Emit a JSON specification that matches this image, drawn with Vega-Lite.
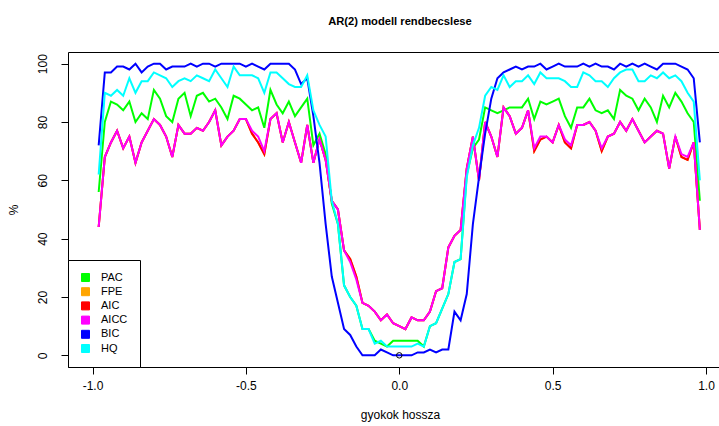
{
  "$schema": "https://vega.github.io/schema/vega-lite/v6.json",
  "width": 651,
  "height": 315,
  "autosize": {"type": "none"},
  "padding": {"left": 68, "top": 52, "right": 0, "bottom": 59},
  "background": "white",
  "config": {
    "view": {"stroke": "black", "strokeWidth": 1},
    "axis": {"domain": false, "grid": false, "ticks": true, "tickColor": "black", "tickSize": 7, "tickWidth": 1, "labelFont": "Liberation Sans", "labelFontSize": 12, "labelColor": "black", "titleFont": "Liberation Sans", "titleFontSize": 12, "titleFontWeight": "normal", "titleColor": "black"}
  },
  "title": {"text": "AR(2) modell rendbecslese", "font": "Liberation Sans", "fontSize": 11.2, "fontWeight": "bold", "color": "black", "anchor": "middle", "dx": 6.5, "offset": 25},
  "datasets": {
    "ar": [
      {"x": -0.98, "PAC": 56, "FPE": 44, "AIC": 44, "AICC": 44, "BIC": 72, "HQ": 62},
      {"x": -0.96, "PAC": 80, "FPE": 68, "AIC": 68, "AICC": 68, "BIC": 97, "HQ": 90},
      {"x": -0.94, "PAC": 87, "FPE": 73, "AIC": 73, "AICC": 73, "BIC": 97, "HQ": 89},
      {"x": -0.92, "PAC": 86, "FPE": 77, "AIC": 77, "AICC": 77, "BIC": 99, "HQ": 91},
      {"x": -0.90, "PAC": 84, "FPE": 71, "AIC": 71, "AICC": 71, "BIC": 99, "HQ": 89},
      {"x": -0.88, "PAC": 87, "FPE": 75, "AIC": 75, "AICC": 75, "BIC": 98, "HQ": 95},
      {"x": -0.86, "PAC": 80, "FPE": 66, "AIC": 66, "AICC": 66, "BIC": 100, "HQ": 90},
      {"x": -0.84, "PAC": 83, "FPE": 73, "AIC": 73, "AICC": 73, "BIC": 97, "HQ": 94},
      {"x": -0.82, "PAC": 81, "FPE": 77, "AIC": 77, "AICC": 77, "BIC": 99, "HQ": 94},
      {"x": -0.80, "PAC": 91, "FPE": 81, "AIC": 81, "AICC": 81, "BIC": 100, "HQ": 97},
      {"x": -0.78, "PAC": 88, "FPE": 79, "AIC": 79, "AICC": 79, "BIC": 100, "HQ": 96},
      {"x": -0.76, "PAC": 82, "FPE": 75, "AIC": 75, "AICC": 75, "BIC": 98, "HQ": 95},
      {"x": -0.74, "PAC": 80, "FPE": 68, "AIC": 68, "AICC": 68, "BIC": 99, "HQ": 92},
      {"x": -0.72, "PAC": 88, "FPE": 79, "AIC": 79, "AICC": 79, "BIC": 99, "HQ": 94},
      {"x": -0.70, "PAC": 90, "FPE": 76, "AIC": 76, "AICC": 76, "BIC": 99, "HQ": 95},
      {"x": -0.68, "PAC": 82, "FPE": 76, "AIC": 76, "AICC": 76, "BIC": 100, "HQ": 94},
      {"x": -0.66, "PAC": 89, "FPE": 78, "AIC": 78, "AICC": 78, "BIC": 99, "HQ": 96},
      {"x": -0.64, "PAC": 90, "FPE": 77, "AIC": 77, "AICC": 77, "BIC": 100, "HQ": 95},
      {"x": -0.62, "PAC": 87, "FPE": 80, "AIC": 80, "AICC": 80, "BIC": 100, "HQ": 94},
      {"x": -0.60, "PAC": 88, "FPE": 84, "AIC": 84, "AICC": 84, "BIC": 99, "HQ": 98},
      {"x": -0.58, "PAC": 85, "FPE": 72, "AIC": 72, "AICC": 72, "BIC": 100, "HQ": 95},
      {"x": -0.56, "PAC": 81, "FPE": 75, "AIC": 75, "AICC": 75, "BIC": 100, "HQ": 92},
      {"x": -0.54, "PAC": 89, "FPE": 77, "AIC": 77, "AICC": 77, "BIC": 100, "HQ": 99},
      {"x": -0.52, "PAC": 88, "FPE": 81, "AIC": 81, "AICC": 81, "BIC": 100, "HQ": 96},
      {"x": -0.50, "PAC": 86, "FPE": 81, "AIC": 81, "AICC": 81, "BIC": 99, "HQ": 96},
      {"x": -0.48, "PAC": 84, "FPE": 76, "AIC": 76, "AICC": 77, "BIC": 100, "HQ": 96},
      {"x": -0.46, "PAC": 85, "FPE": 73, "AIC": 73, "AICC": 75, "BIC": 99, "HQ": 95},
      {"x": -0.44, "PAC": 78, "FPE": 69, "AIC": 69, "AICC": 70, "BIC": 98, "HQ": 90},
      {"x": -0.42, "PAC": 91, "FPE": 81, "AIC": 81, "AICC": 81, "BIC": 100, "HQ": 97},
      {"x": -0.40, "PAC": 86, "FPE": 83, "AIC": 83, "AICC": 83, "BIC": 100, "HQ": 97},
      {"x": -0.38, "PAC": 83, "FPE": 73, "AIC": 73, "AICC": 73, "BIC": 100, "HQ": 95},
      {"x": -0.36, "PAC": 87, "FPE": 80, "AIC": 80, "AICC": 80, "BIC": 100, "HQ": 93},
      {"x": -0.34, "PAC": 82, "FPE": 73, "AIC": 73, "AICC": 73, "BIC": 98, "HQ": 92},
      {"x": -0.32, "PAC": 85, "FPE": 66, "AIC": 66, "AICC": 66, "BIC": 93, "HQ": 92},
      {"x": -0.30, "PAC": 88, "FPE": 79, "AIC": 79, "AICC": 79, "BIC": 95, "HQ": 96},
      {"x": -0.28, "PAC": 72, "FPE": 66, "AIC": 66, "AICC": 66, "BIC": 82, "HQ": 84},
      {"x": -0.26, "PAC": 76, "FPE": 74, "AIC": 74, "AICC": 74, "BIC": 66, "HQ": 79},
      {"x": -0.24, "PAC": 69, "FPE": 67, "AIC": 67, "AICC": 67, "BIC": 45, "HQ": 75},
      {"x": -0.22, "PAC": 52, "FPE": 53, "AIC": 53, "AICC": 53, "BIC": 27, "HQ": 53},
      {"x": -0.20, "PAC": 45, "FPE": 50, "AIC": 50, "AICC": 50, "BIC": 18, "HQ": 45},
      {"x": -0.18, "PAC": 24, "FPE": 36, "AIC": 36, "AICC": 36, "BIC": 9, "HQ": 24},
      {"x": -0.16, "PAC": 20, "FPE": 33, "AIC": 33, "AICC": 32, "BIC": 7, "HQ": 20},
      {"x": -0.14, "PAC": 17, "FPE": 27, "AIC": 27, "AICC": 26, "BIC": 3, "HQ": 17},
      {"x": -0.12, "PAC": 9, "FPE": 18, "AIC": 18, "AICC": 18, "BIC": 0, "HQ": 9},
      {"x": -0.10, "PAC": 9, "FPE": 17, "AIC": 17, "AICC": 17, "BIC": 0, "HQ": 9},
      {"x": -0.08, "PAC": 5, "FPE": 15, "AIC": 15, "AICC": 15, "BIC": 0, "HQ": 4},
      {"x": -0.06, "PAC": 4, "FPE": 12, "AIC": 12, "AICC": 12, "BIC": 2, "HQ": 5},
      {"x": -0.04, "PAC": 3, "FPE": 14, "AIC": 14, "AICC": 14, "BIC": 1, "HQ": 3},
      {"x": -0.02, "PAC": 5, "FPE": 11, "AIC": 11, "AICC": 11, "BIC": 0, "HQ": 3},
      {"x": 0.00, "PAC": 5, "FPE": 10, "AIC": 10, "AICC": 10, "BIC": 0, "HQ": 3},
      {"x": 0.02, "PAC": 5, "FPE": 9, "AIC": 9, "AICC": 9, "BIC": 0, "HQ": 3},
      {"x": 0.04, "PAC": 5, "FPE": 13, "AIC": 13, "AICC": 13, "BIC": 0, "HQ": 3},
      {"x": 0.06, "PAC": 5, "FPE": 12, "AIC": 12, "AICC": 12, "BIC": 1, "HQ": 4},
      {"x": 0.08, "PAC": 3, "FPE": 12, "AIC": 12, "AICC": 12, "BIC": 1, "HQ": 3},
      {"x": 0.10, "PAC": 10, "FPE": 15, "AIC": 15, "AICC": 15, "BIC": 2, "HQ": 10},
      {"x": 0.12, "PAC": 11, "FPE": 22, "AIC": 22, "AICC": 22, "BIC": 1, "HQ": 11},
      {"x": 0.14, "PAC": 16, "FPE": 23, "AIC": 23, "AICC": 23, "BIC": 2, "HQ": 16},
      {"x": 0.16, "PAC": 21, "FPE": 37, "AIC": 37, "AICC": 37, "BIC": 2, "HQ": 21},
      {"x": 0.18, "PAC": 32, "FPE": 41, "AIC": 41, "AICC": 41, "BIC": 15, "HQ": 32},
      {"x": 0.20, "PAC": 33, "FPE": 43, "AIC": 43, "AICC": 43, "BIC": 12, "HQ": 33},
      {"x": 0.22, "PAC": 62, "FPE": 64, "AIC": 64, "AICC": 64, "BIC": 21, "HQ": 61},
      {"x": 0.24, "PAC": 71, "FPE": 75, "AIC": 75, "AICC": 75, "BIC": 45, "HQ": 72},
      {"x": 0.26, "PAC": 74, "FPE": 60, "AIC": 60, "AICC": 60, "BIC": 61, "HQ": 78},
      {"x": 0.28, "PAC": 85, "FPE": 80, "AIC": 80, "AICC": 80, "BIC": 76, "HQ": 89},
      {"x": 0.30, "PAC": 84, "FPE": 75, "AIC": 75, "AICC": 75, "BIC": 88, "HQ": 92},
      {"x": 0.32, "PAC": 83, "FPE": 68, "AIC": 68, "AICC": 68, "BIC": 95, "HQ": 91},
      {"x": 0.34, "PAC": 84, "FPE": 85, "AIC": 85, "AICC": 85, "BIC": 97, "HQ": 96},
      {"x": 0.36, "PAC": 85, "FPE": 82, "AIC": 82, "AICC": 82, "BIC": 98, "HQ": 92},
      {"x": 0.38, "PAC": 85, "FPE": 76, "AIC": 76, "AICC": 76, "BIC": 99, "HQ": 94},
      {"x": 0.40, "PAC": 85, "FPE": 78, "AIC": 78, "AICC": 78, "BIC": 98, "HQ": 94},
      {"x": 0.42, "PAC": 88, "FPE": 84, "AIC": 84, "AICC": 84, "BIC": 99, "HQ": 96},
      {"x": 0.44, "PAC": 81, "FPE": 70, "AIC": 70, "AICC": 71, "BIC": 99, "HQ": 93},
      {"x": 0.46, "PAC": 87, "FPE": 74, "AIC": 74, "AICC": 75, "BIC": 100, "HQ": 97},
      {"x": 0.48, "PAC": 86, "FPE": 75, "AIC": 75, "AICC": 75, "BIC": 98, "HQ": 95},
      {"x": 0.50, "PAC": 87, "FPE": 73, "AIC": 73, "AICC": 73, "BIC": 99, "HQ": 95},
      {"x": 0.52, "PAC": 88, "FPE": 79, "AIC": 79, "AICC": 79, "BIC": 100, "HQ": 95},
      {"x": 0.54, "PAC": 82, "FPE": 73, "AIC": 73, "AICC": 74, "BIC": 99, "HQ": 94},
      {"x": 0.56, "PAC": 78, "FPE": 71, "AIC": 71, "AICC": 72, "BIC": 99, "HQ": 92},
      {"x": 0.58, "PAC": 85, "FPE": 79, "AIC": 79, "AICC": 79, "BIC": 99, "HQ": 92},
      {"x": 0.60, "PAC": 85, "FPE": 79, "AIC": 79, "AICC": 79, "BIC": 100, "HQ": 97},
      {"x": 0.62, "PAC": 88, "FPE": 80, "AIC": 80, "AICC": 80, "BIC": 99, "HQ": 96},
      {"x": 0.64, "PAC": 84, "FPE": 77, "AIC": 77, "AICC": 77, "BIC": 100, "HQ": 94},
      {"x": 0.66, "PAC": 83, "FPE": 70, "AIC": 70, "AICC": 71, "BIC": 99, "HQ": 94},
      {"x": 0.68, "PAC": 84, "FPE": 75, "AIC": 75, "AICC": 75, "BIC": 99, "HQ": 92},
      {"x": 0.70, "PAC": 81, "FPE": 76, "AIC": 76, "AICC": 76, "BIC": 98, "HQ": 95},
      {"x": 0.72, "PAC": 91, "FPE": 80, "AIC": 80, "AICC": 80, "BIC": 100, "HQ": 97},
      {"x": 0.74, "PAC": 89, "FPE": 77, "AIC": 77, "AICC": 77, "BIC": 99, "HQ": 98},
      {"x": 0.76, "PAC": 88, "FPE": 81, "AIC": 81, "AICC": 81, "BIC": 100, "HQ": 98},
      {"x": 0.78, "PAC": 84, "FPE": 77, "AIC": 77, "AICC": 77, "BIC": 99, "HQ": 94},
      {"x": 0.80, "PAC": 88, "FPE": 73, "AIC": 73, "AICC": 73, "BIC": 100, "HQ": 94},
      {"x": 0.82, "PAC": 85, "FPE": 75, "AIC": 75, "AICC": 75, "BIC": 99, "HQ": 96},
      {"x": 0.84, "PAC": 80, "FPE": 77, "AIC": 77, "AICC": 77, "BIC": 98, "HQ": 95},
      {"x": 0.86, "PAC": 89, "FPE": 76, "AIC": 76, "AICC": 76, "BIC": 100, "HQ": 97},
      {"x": 0.88, "PAC": 85, "FPE": 64, "AIC": 64, "AICC": 64, "BIC": 100, "HQ": 95},
      {"x": 0.90, "PAC": 90, "FPE": 75, "AIC": 75, "AICC": 75, "BIC": 100, "HQ": 96},
      {"x": 0.92, "PAC": 87, "FPE": 68, "AIC": 68, "AICC": 69, "BIC": 99, "HQ": 94},
      {"x": 0.94, "PAC": 83, "FPE": 67, "AIC": 67, "AICC": 68, "BIC": 98, "HQ": 90},
      {"x": 0.96, "PAC": 80, "FPE": 73, "AIC": 73, "AICC": 73, "BIC": 95, "HQ": 87},
      {"x": 0.98, "PAC": 53, "FPE": 43, "AIC": 43, "AICC": 43, "BIC": 73, "HQ": 60}
    ],
    "pt": [{"x": 0, "y": 0}]
  },
  "layer": [
    {
      "data": {"name": "ar"},
      "transform": [{"fold": ["PAC", "FPE", "AIC", "AICC", "BIC", "HQ"], "as": ["method", "pct"]}],
      "mark": {"type": "line", "strokeWidth": 2},
      "encoding": {
        "x": {"field": "x", "type": "quantitative",
          "scale": {"domain": [-1.08, 1.0424], "nice": false, "zero": false},
          "axis": {"values": [-1, -0.5, 0, 0.5, 1], "labelPadding": 6, "labelExpr": "datum.value < 0 ? '-' + format(-datum.value, '.1f') : format(datum.value, '.1f')", "title": "gyokok hossza", "titlePadding": 18, "titleX": 332}},
        "y": {"field": "pct", "type": "quantitative",
          "scale": {"domain": [-4, 104], "nice": false, "zero": false},
          "axis": {"values": [0, 20, 40, 60, 80, 100], "labelAngle": -90, "labelAlign": "center", "labelBaseline": "bottom", "labelPadding": 12, "title": "%", "titlePadding": 16}},
        "color": {"field": "method", "type": "nominal",
          "scale": {"domain": ["PAC", "FPE", "AIC", "AICC", "BIC", "HQ"], "range": ["#00FF00", "#FFA500", "#FF0000", "#FF00FF", "#0000FF", "#00FFFF"]},
          "legend": {"orient": "none", "legendX": 0, "legendY": 208, "title": null, "symbolType": "square", "symbolSize": 64, "symbolStrokeColor": "black", "symbolStrokeWidth": 1, "labelFont": "Liberation Sans", "labelFontSize": 11, "labelColor": "black", "labelOffset": 10, "padding": 12, "rowPadding": 1.2, "strokeColor": "black", "fillColor": "white", "cornerRadius": 0,
            "encode": {"symbols": {"update": {"fill": {"scale": "color", "field": "value"}, "stroke": {"value": "black"}, "strokeWidth": {"value": 1}, "opacity": {"value": 1}}}}}}
      }
    },
    {
      "data": {"name": "pt"},
      "mark": {"type": "point", "shape": "circle", "filled": false, "color": "black", "size": 30, "strokeWidth": 1, "opacity": 1},
      "encoding": {
        "x": {"field": "x", "type": "quantitative"},
        "y": {"field": "y", "type": "quantitative"}
      }
    }
  ]
}
